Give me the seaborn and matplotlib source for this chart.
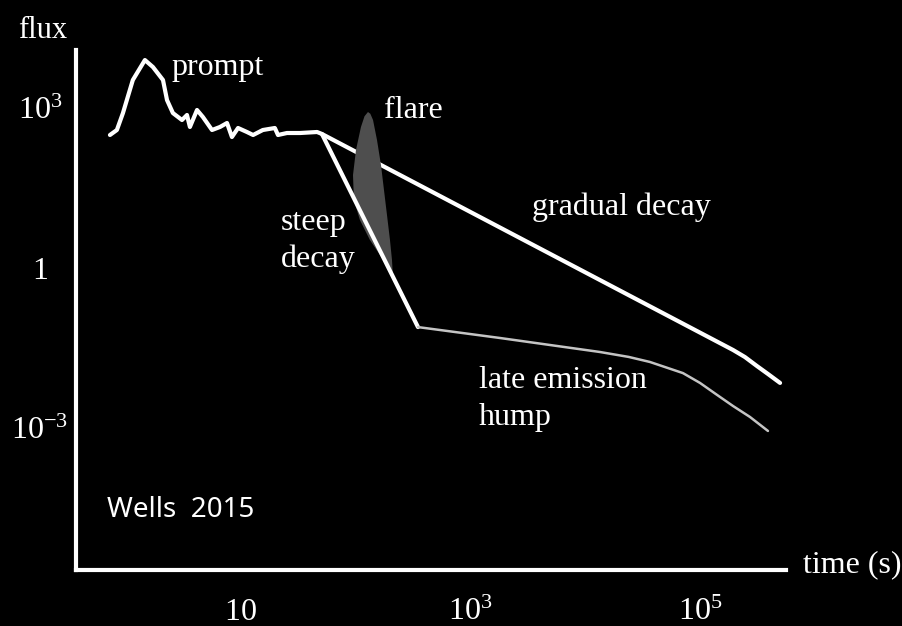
import matplotlib
matplotlib.use("Agg")
import matplotlib.pyplot as plt
import pandas as pd
import seaborn as sns

# Prompt spike, plateau and the gradual (normal) decay, time in s
time_main = [0.74, 0.85, 0.96, 1.17, 1.49, 1.75, 2.14, 2.32, 2.61, 3.13, 3.46,
             3.67, 4.23, 4.76, 5.71, 6.70, 7.71, 8.51, 9.62, 11.5, 13.0, 15.8,
             20.1, 21.4, 25.6, 33.3, 46.8, 51.6, 1.94e5, 2.46e5, 3.13e5,
             3.90e5, 4.97e5]
flux_main = [312, 387, 805, 3350, 7940, 5870, 3350, 1410, 805, 596, 740,
             441, 918, 678, 387, 441, 524, 286, 422, 355, 312, 387,
             422, 312, 340, 340, 355, 326, 0.029, 0.0214, 0.0145,
             0.0103, 0.0070]

# Steep decay branch after the plateau
time_steep = [51.6, 353]
flux_steep = [326, 0.078]

# Late emission hump
time_hump = [353, 1824, 1.35e4, 2.4e4, 3.67e4, 7.11e4, 1.0e5, 1.41e5, 1.94e5,
             2.72e5, 3.90e5]
flux_hump = [0.078, 0.0487, 0.0266, 0.0215, 0.0173, 0.0107, 0.0070, 0.00416,
             0.00258, 0.00161, 0.00088]

# Flare outline (closed shape)
flare_time = [129.7, 136.0, 143.5, 155.4, 168.3, 178.7, 189.8, 201.5, 209.8,
              213.9, 193.8, 164.9, 134.9, 110.4, 97.9, 96.1, 102.0, 112.7,
              121.0]
flare_flux = [842, 780, 596, 251, 85.4, 29.0, 9.86, 3.35, 1.41,
              0.678, 1.0, 1.75, 3.35, 7.94, 18.8, 55.4, 163, 441,
              700]

x_ticks = [10, 1e3, 1e5]
x_labels = ["$10$", "$10^3$", "$10^5$"]
y_ticks = [1e3, 1, 1e-3]
y_labels = ["$10^3$", "$1$", "$10^{-3}$"]

sns.set_theme(style="dark", rc={
    "figure.facecolor": "black",
    "axes.facecolor": "black",
    "axes.edgecolor": "white",
    "text.color": "white",
    "xtick.color": "white",
    "ytick.color": "white",
})
plt.rcParams["font.family"] = ["Liberation Serif", "DejaVu Serif"]
plt.rcParams["mathtext.fontset"] = "custom"
plt.rcParams["mathtext.rm"] = "Liberation Serif"
plt.rcParams["mathtext.it"] = "Liberation Serif:italic"

W, H = 903, 626
fig = plt.figure(figsize=(W / 100, H / 100), dpi=100)
ax = fig.add_axes([76 / W, 56 / H, 710 / W, 520 / H])
ax.set_facecolor("black")

main = pd.DataFrame({"t": time_main, "f": flux_main})
steep = pd.DataFrame({"t": time_steep, "f": flux_steep})
hump = pd.DataFrame({"t": time_hump, "f": flux_hump})

sns.lineplot(data=main, x="t", y="f", sort=False, estimator=None, ax=ax,
             color="white", linewidth=3.0, zorder=2)
ax.fill(flare_time, flare_flux, color="#4e4e4e", linewidth=0, zorder=3)
sns.lineplot(data=steep, x="t", y="f", sort=False, estimator=None, ax=ax,
             color="white", linewidth=3.0, zorder=4)
sns.lineplot(data=hump, x="t", y="f", sort=False, estimator=None, ax=ax,
             color="#c4c4c4", linewidth=1.8, zorder=4)

ax.set_xscale("log")
ax.set_yscale("log")
ax.set_xlim(10 ** -0.426, 10 ** 5.748)
ax.set_ylim(10 ** -5.663, 10 ** 4.088)
ax.set_xlabel("")
ax.set_ylabel("")
ax.grid(False)

ax.minorticks_off()
ax.set_xticks(x_ticks, labels=x_labels, va="baseline")
ax.set_yticks(y_ticks, labels=y_labels, ha="center")
ax.tick_params(axis="x", length=0, pad=36, labelsize=23)
ax.tick_params(axis="y", length=0, pad=26, labelsize=23)

for side in ("top", "right"):
    ax.spines[side].set_visible(False)
for side in ("left", "bottom"):
    ax.spines[side].set_color("white")
    ax.spines[side].set_linewidth(3)


def label(px, py, s, **kw):
    fig.text(px / W, 1 - py / H, s, ha="left", va="baseline", color="white",
             **kw)


label(18, 38, "flux", fontsize=22)
label(171, 75, "prompt", fontsize=23)
label(384, 118, "flare", fontsize=23)
label(281, 230, "steep", fontsize=23)
label(281, 267, "decay", fontsize=23)
label(532, 215, "gradual decay", fontsize=23)
label(479, 388, "late emission", fontsize=23)
label(479, 425, "hump", fontsize=23)
label(803, 572, "time (s)", fontsize=23)
label(107, 517, "Wells  2015", fontsize=20, family=["Noto Sans", "DejaVu Sans"])

fig.savefig("out.png", dpi=100, facecolor="black")
